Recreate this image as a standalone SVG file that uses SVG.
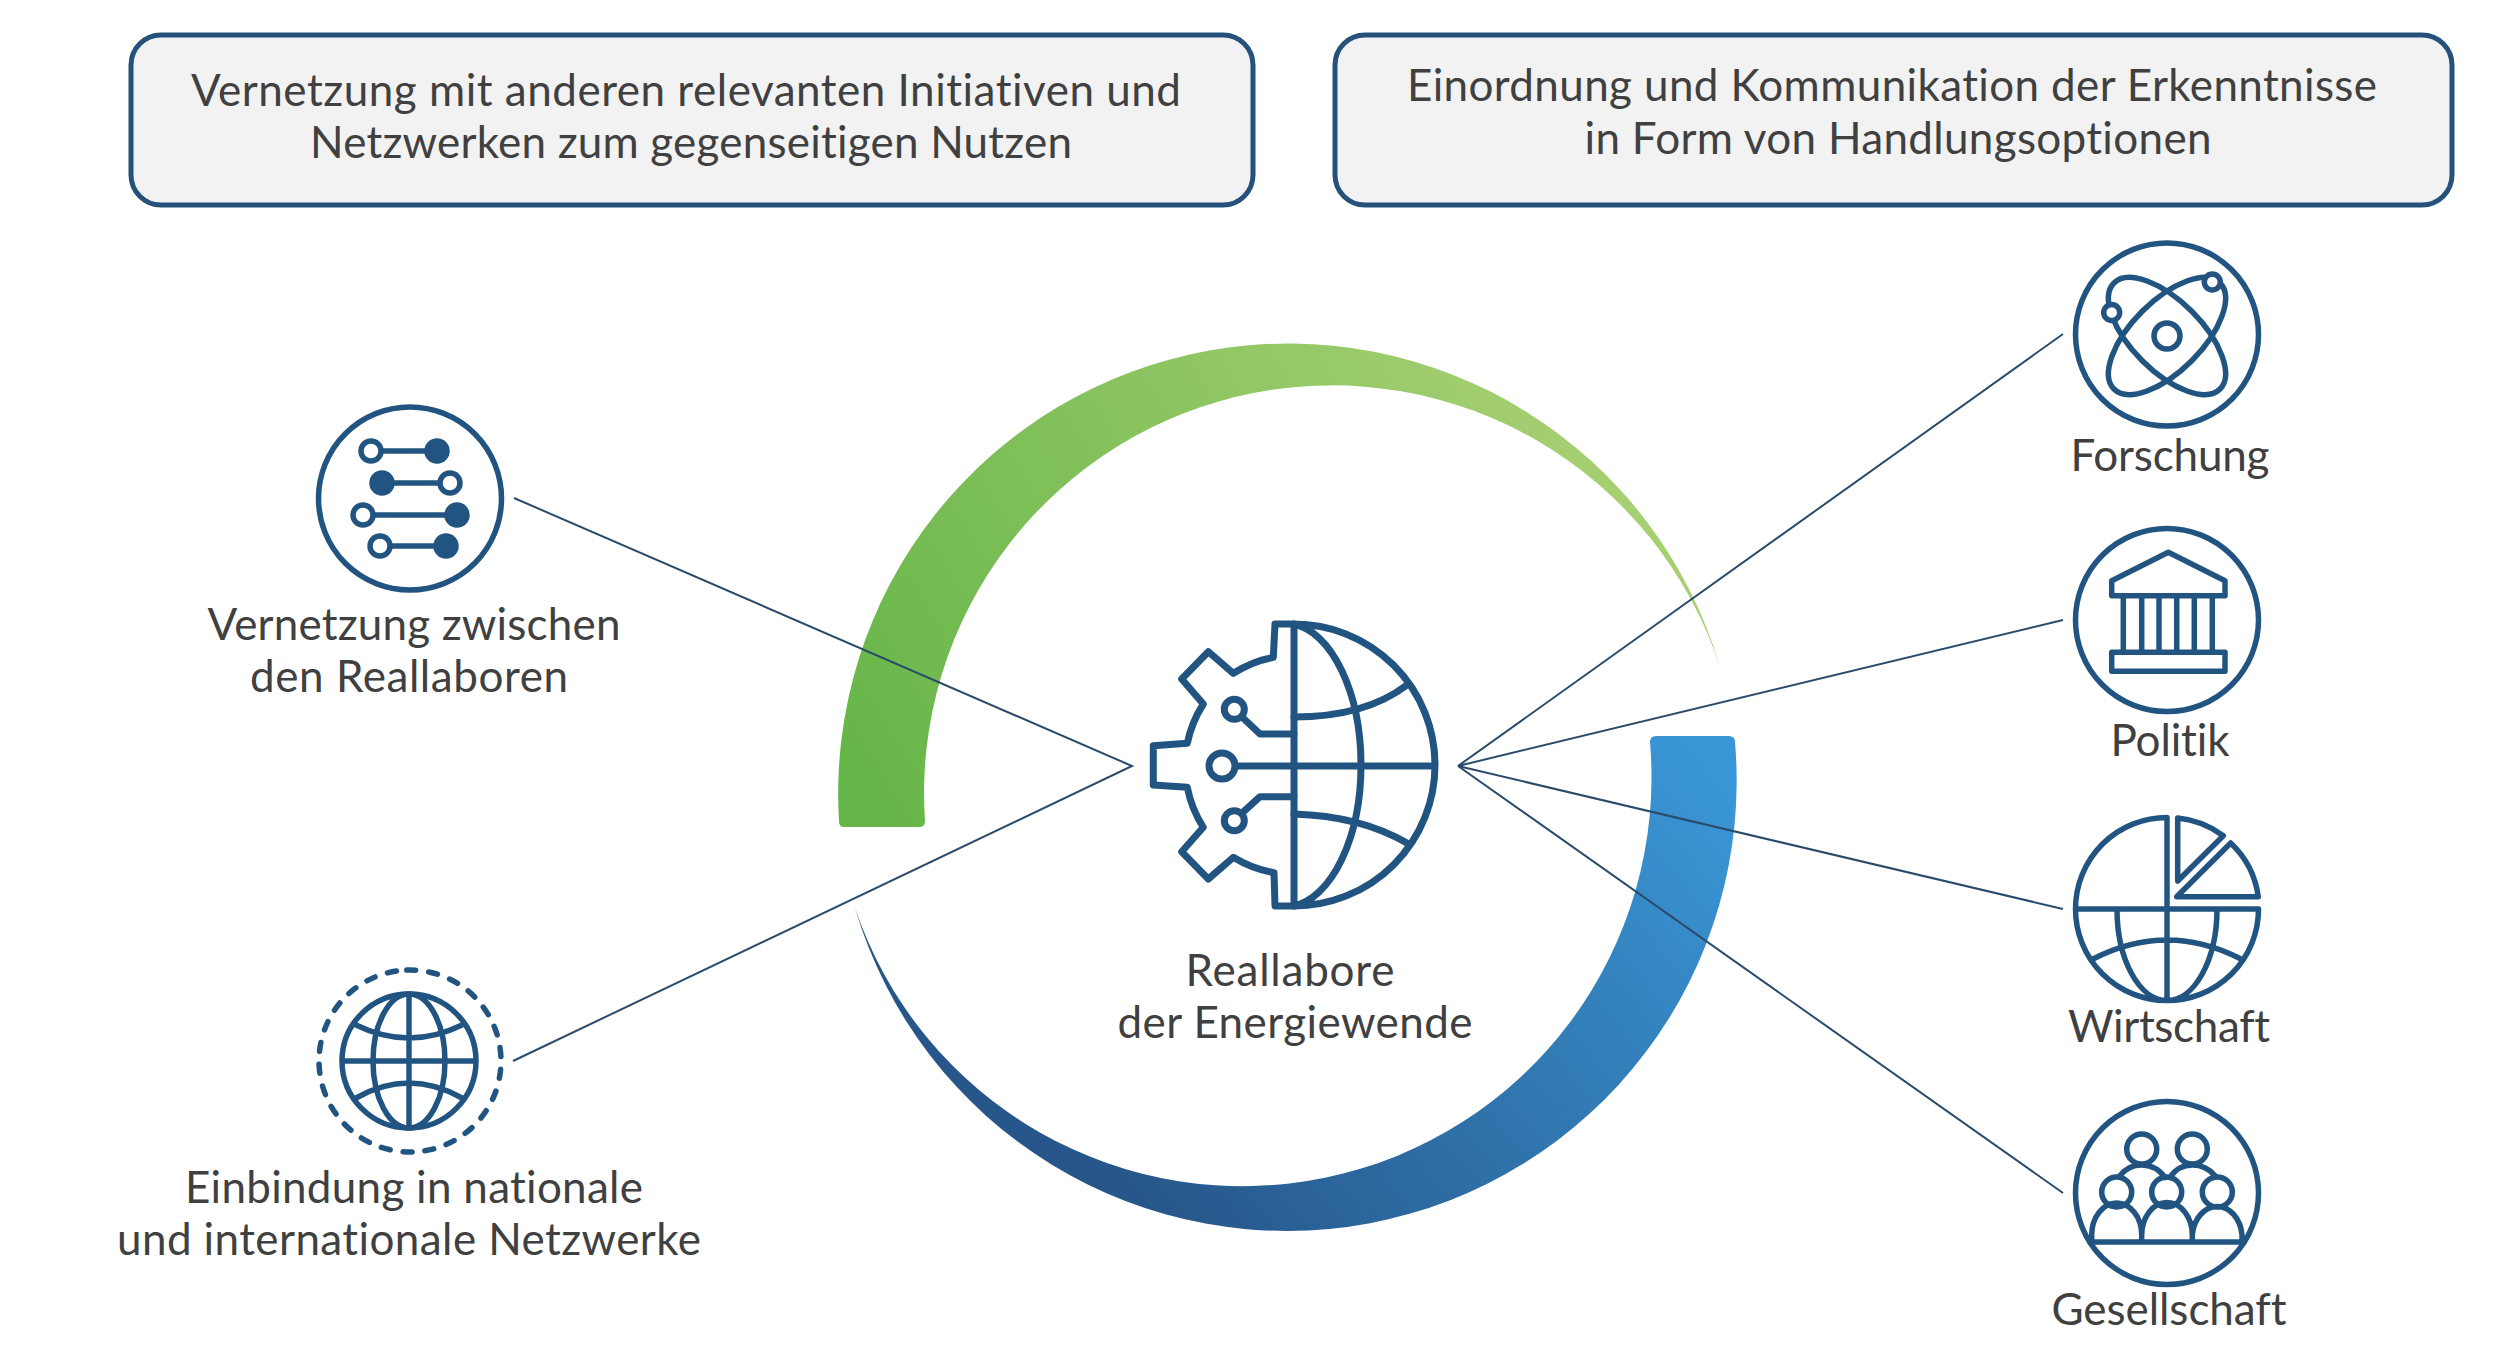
<svg xmlns="http://www.w3.org/2000/svg" width="2520" height="1370" viewBox="0 0 2520 1370">
<style>
.t{font-family:"Lato","Liberation Sans",sans-serif;font-size:44px;fill:#404040;text-anchor:middle;font-variant-ligatures:none}
.i{fill:none;stroke:#225482;stroke-width:5.5;stroke-linejoin:round;stroke-linecap:round}
.w{fill:#fff}
.f{fill:#225482}
.b{fill:#f2f2f2;stroke:#24527a;stroke-width:5}
.c{fill:none;stroke:#2b4b6b;stroke-width:2}
</style>
<defs>
<linearGradient id="gg" gradientUnits="userSpaceOnUse" x1="860" y1="820" x2="1560" y2="400"><stop offset="0" stop-color="#65b548"/><stop offset="1" stop-color="#a6cf72"/></linearGradient>
<linearGradient id="gb" gradientUnits="userSpaceOnUse" x1="1700" y1="740" x2="1150" y2="1210"><stop offset="0" stop-color="#3a97d7"/><stop offset="1" stop-color="#27578a"/></linearGradient>
</defs>
<rect width="2520" height="1370" fill="#fff"/>
<g id="ring-green"><path d="M844 827Q839 827 839 821A450 450 0 0 1 1720 667A408 408 0 0 0 925 821Q925 827 919 827Z" fill="url(#gg)"/></g>
<g id="ring-blue"><path d="M1729 736Q1735 736 1735 742A450 450 0 0 1 855 908A409 409 0 0 0 1650 742Q1650 736 1656 736Z" fill="url(#gb)"/></g>
<g id="connectors">
<path class="c" d="M514 498L1132 766L513 1061"/>
<path class="c" d="M2063 334L1458 766L2063 620M1458 766L2063 909M1458 766L2063 1193"/>
</g>
<g id="box-left"><rect class="b" x="131" y="35" width="1122" height="170" rx="30"/>
<text class="t" x="686" y="106" textLength="990">Vernetzung mit anderen relevanten Initiativen und</text>
<text class="t" x="691" y="158" textLength="762">Netzwerken zum gegenseitigen Nutzen</text></g>
<g id="box-right"><rect class="b" x="1335" y="35" width="1117" height="170" rx="30"/>
<text class="t" x="1892" y="101" textLength="970">Einordnung und Kommunikation der Erkenntnisse</text>
<text class="t" x="1898" y="154" textLength="627">in Form von Handlungsoptionen</text></g>
<g id="node-center">
<g class="i" style="stroke-width:7">
<path d="M1294 624H1275L1273.300 657.300A115 115 0 0 0 1233.300 673.300L1208.300 651.700L1181.700 679L1203.300 704A115 115 0 0 0 1187.300 743.300L1153.300 745.700V785L1187.300 787.300A115 115 0 0 0 1203.300 827.300L1181.700 851.700L1208.300 879L1233.300 857.300A115 115 0 0 0 1274 872.700L1275 906H1294"/>
<path d="M1294 624A141 141 0 0 1 1294 906V624A76 142 0 0 1 1294 906"/>
<path d="M1236 766H1433M1294 717Q1365 717 1407 685M1294 814Q1360 816 1407 843"/>
<path d="M1241.700 716.700L1260 734H1294M1241.700 813.300L1260 796.700H1294"/>
<circle cx="1222" cy="766" r="13"/><circle cx="1234.300" cy="709.300" r="10"/><circle cx="1234.300" cy="820.700" r="10"/>
</g>
<text class="t" x="1290" y="986" textLength="209">Reallabore</text>
<text class="t" x="1295" y="1038" textLength="355">der Energiewende</text>
</g>
<g id="node-vernetzung">
<g class="i"><circle cx="410" cy="498.500" r="91.500"/>
<path d="M371 451H437M382 483H450M363 515H457M380 546H446"/>
<circle class="w" cx="371" cy="451" r="10"/><circle class="f" cx="437" cy="451" r="10"/>
<circle class="f" cx="382" cy="483" r="10"/><circle class="w" cx="450" cy="483" r="10"/>
<circle class="w" cx="363" cy="515" r="10"/><circle class="f" cx="457" cy="515" r="10"/>
<circle class="w" cx="380" cy="546" r="10"/><circle class="f" cx="446" cy="546" r="10"/></g>
<text class="t" x="414" y="640" textLength="413">Vernetzung zwischen</text>
<text class="t" x="409" y="692" textLength="318">den Reallaboren</text>
</g>
<g id="node-netzwerke">
<g class="i"><circle cx="410" cy="1061" r="91" stroke-dasharray="9 13.050" transform="rotate(-92 410 1061)"/>
<circle cx="409" cy="1061" r="67"/><ellipse cx="409" cy="1061" rx="36" ry="67"/>
<path d="M409 995V1127M343 1061H475M356 1025Q409 1051 462 1025M356 1098Q409 1068 462 1098"/></g>
<text class="t" x="414" y="1203" textLength="458">Einbindung in nationale</text>
<text class="t" x="409" y="1255" textLength="584">und internationale Netzwerke</text>
</g>
<g id="node-forschung">
<g class="i"><circle cx="2167" cy="334.500" r="91.500"/>
<ellipse cx="2167" cy="336" rx="75" ry="35" transform="rotate(45 2167 336)"/>
<ellipse cx="2167" cy="336" rx="75" ry="35" transform="rotate(-45 2167 336)"/>
<circle cx="2167" cy="336" r="13"/>
<circle class="w" cx="2111.700" cy="312.500" r="8"/><circle class="w" cx="2212.300" cy="282" r="8"/></g>
<text class="t" x="2170" y="471" textLength="199">Forschung</text>
</g>
<g id="node-politik">
<g class="i" transform="translate(0 -1)"><circle cx="2167" cy="621" r="91.500"/>
<path d="M2111.700 596.700V581.700L2168.300 553.300L2225 581.700V596.700Z"/>
<path d="M2123.300 597V653M2141.700 597V653M2159 597V653M2176.700 597V653M2194.300 597V653M2212.300 597V653"/>
<rect x="2111.700" y="653.300" width="113.300" height="19"/></g>
<text class="t" x="2170" y="756" textLength="119">Politik</text>
</g>
<g id="node-wirtschaft">
<g class="i" transform="translate(0 -2)"><path d="M2167 819.500A91.500 91.500 0 1 0 2258.500 911H2075.500M2167 819.500V1002.500M2117 911A50 91.500 0 0 0 2167 1002.500A50 91.500 0 0 0 2217 911M2093 961Q2167 923 2241 961"/>
<path d="M2177.700 820A91 91 0 0 1 2223.300 837.700L2177.700 883ZM2230.700 845A91 91 0 0 1 2258.300 898.700H2176.700Z"/></g>
<text class="t" x="2169" y="1042" textLength="202">Wirtschaft</text>
</g>
<g id="node-gesellschaft">
<g class="i" transform="translate(0 -3)"><circle cx="2167" cy="1196" r="91.500"/>
<path d="M2090 1245H2244M2091.700 1245V1238A25 32 0 0 1 2141.700 1238V1245M2141.700 1238A25 32 0 0 1 2192.300 1238V1245M2192.300 1238A25 32 0 0 1 2242 1238V1245"/>
<path d="M2120 1178.700Q2128 1168 2141.700 1168Q2156 1168 2165 1180.500M2170 1180.500Q2178 1168 2192.300 1168Q2206 1168 2215 1178.700"/>
<circle cx="2141.700" cy="1152" r="15"/><circle cx="2192.300" cy="1152" r="15"/>
<circle cx="2116.700" cy="1195" r="15"/><circle cx="2166.700" cy="1195" r="15"/><circle cx="2217.300" cy="1195" r="15"/></g>
<text class="t" x="2169" y="1325" textLength="235">Gesellschaft</text>
</g>
</svg>
